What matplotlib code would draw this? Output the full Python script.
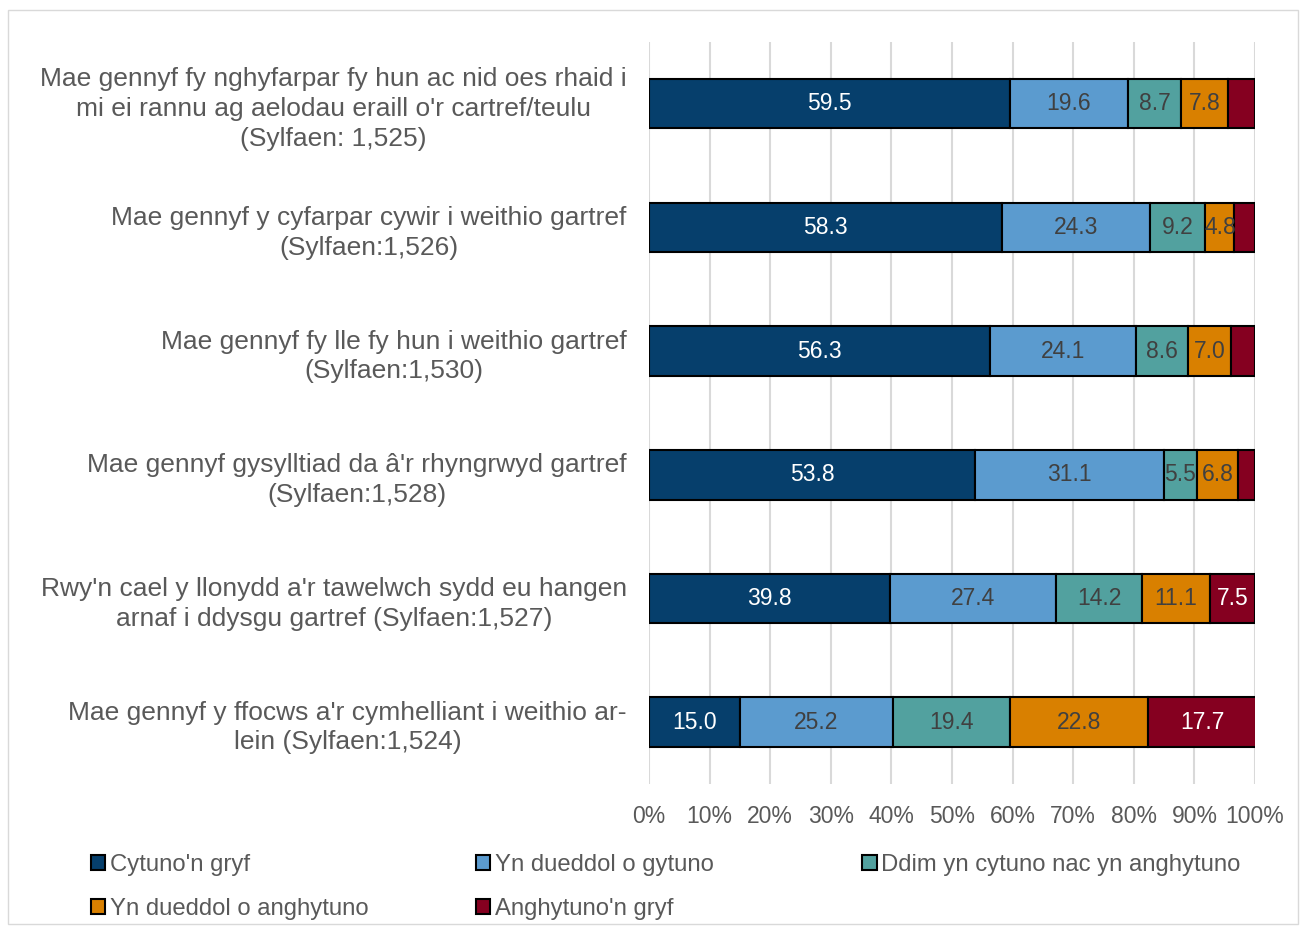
import numpy as np
import matplotlib.pyplot as plt
from matplotlib.patches import Rectangle

plt.rcParams['font.family'] = ['Liberation Sans', 'DejaVu Sans']

# survey statements (top to bottom)
categories = [
    "Mae gennyf fy nghyfarpar fy hun ac nid oes rhaid i\nmi ei rannu ag aelodau eraill o'r cartref/teulu\n(Sylfaen: 1,525)",
    "Mae gennyf y cyfarpar cywir i weithio gartref\n(Sylfaen:1,526)",
    "Mae gennyf fy lle fy hun i weithio gartref\n(Sylfaen:1,530)",
    "Mae gennyf gysylltiad da â'r rhyngrwyd gartref\n(Sylfaen:1,528)",
    "Rwy'n cael y llonydd a'r tawelwch sydd eu hangen\narnaf i ddysgu gartref (Sylfaen:1,527)",
    "Mae gennyf y ffocws a'r cymhelliant i weithio ar-\nlein (Sylfaen:1,524)",
]

series_names = ["Cytuno'n gryf", "Yn dueddol o gytuno",
                "Ddim yn cytuno nac yn anghytuno",
                "Yn dueddol o anghytuno", "Anghytuno'n gryf"]

cytuno_gryf = [59.5, 58.3, 56.3, 53.8, 39.8, 15.0]
dueddol_cytuno = [19.6, 24.3, 24.1, 31.1, 27.4, 25.2]
ddim = [8.7, 9.2, 8.6, 5.5, 14.2, 19.4]
dueddol_anghytuno = [7.8, 4.8, 7.0, 6.8, 11.1, 22.8]
anghytuno_gryf = [4.4, 3.4, 4.0, 2.8, 7.5, 17.7]

series = [cytuno_gryf, dueddol_cytuno, ddim, dueddol_anghytuno, anghytuno_gryf]
colors = ["#063f6c", "#5b9bcf", "#52a19f", "#d98000", "#850020"]
label_colors = ["white", "#404040", "#404040", "#404040", "white"]

fig = plt.figure(figsize=(13.06, 9.3), dpi=100)
ax = fig.add_axes([0.497, 0.157, 0.464, 0.798])

y = np.arange(len(categories))
left = np.zeros(len(categories))
handles = []
for vals, name, col, lc in zip(series, series_names, colors, label_colors):
    vals = np.array(vals)
    bars = ax.barh(y, vals, left=left, height=0.4, color=col,
                   edgecolor='black', linewidth=1.5, label=name, zorder=3)
    handles.append(bars)
    for yi, (l, v) in enumerate(zip(left, vals)):
        if v >= 4.5:  # small red segments have no label in the original
            ax.text(l + v / 2, yi, "%.1f" % v, ha='center', va='center',
                    color=lc, fontsize=16.5, zorder=4)
    left = left + vals

ax.set_xlim(0, 100)
ax.set_ylim(len(categories) - 0.5, -0.5)
ax.set_xticks(np.arange(0, 101, 10))
ax.set_xticklabels(["%d%%" % t for t in range(0, 101, 10)])
ax.set_yticks(y)
ax.set_yticklabels(categories, multialignment='center', linespacing=1.3)
ax.tick_params(axis='both', length=0, labelcolor='#595959')
ax.tick_params(axis='x', labelsize=16.5, pad=15)
ax.tick_params(axis='y', labelsize=19, pad=16)
ax.xaxis.grid(True, color='#d9d9d9', linewidth=1.5, zorder=0)
for s in ax.spines.values():
    s.set_visible(False)

# legend laid out in three columns like the original
col_groups = [[0, 3], [1, 4], [2]]
col_x = [0.062, 0.357, 0.653]
for grp, xx in zip(col_groups, col_x):
    lg = fig.legend([handles[i] for i in grp], [series_names[i] for i in grp],
                    loc='upper left', bbox_to_anchor=(xx, 0.092), frameon=False,
                    fontsize=17.2, handlelength=0.6, handleheight=0.6,
                    handletextpad=0.2, labelspacing=0.92, borderaxespad=0)
    for t in lg.get_texts():
        t.set_color('#595959')

# thin frame round the whole chart
fig.patches.append(Rectangle((0.006, 0.006), 0.988, 0.983, transform=fig.transFigure,
                             fill=False, edgecolor='#d9d9d9', linewidth=1))

fig.savefig("out.png", dpi=100)
